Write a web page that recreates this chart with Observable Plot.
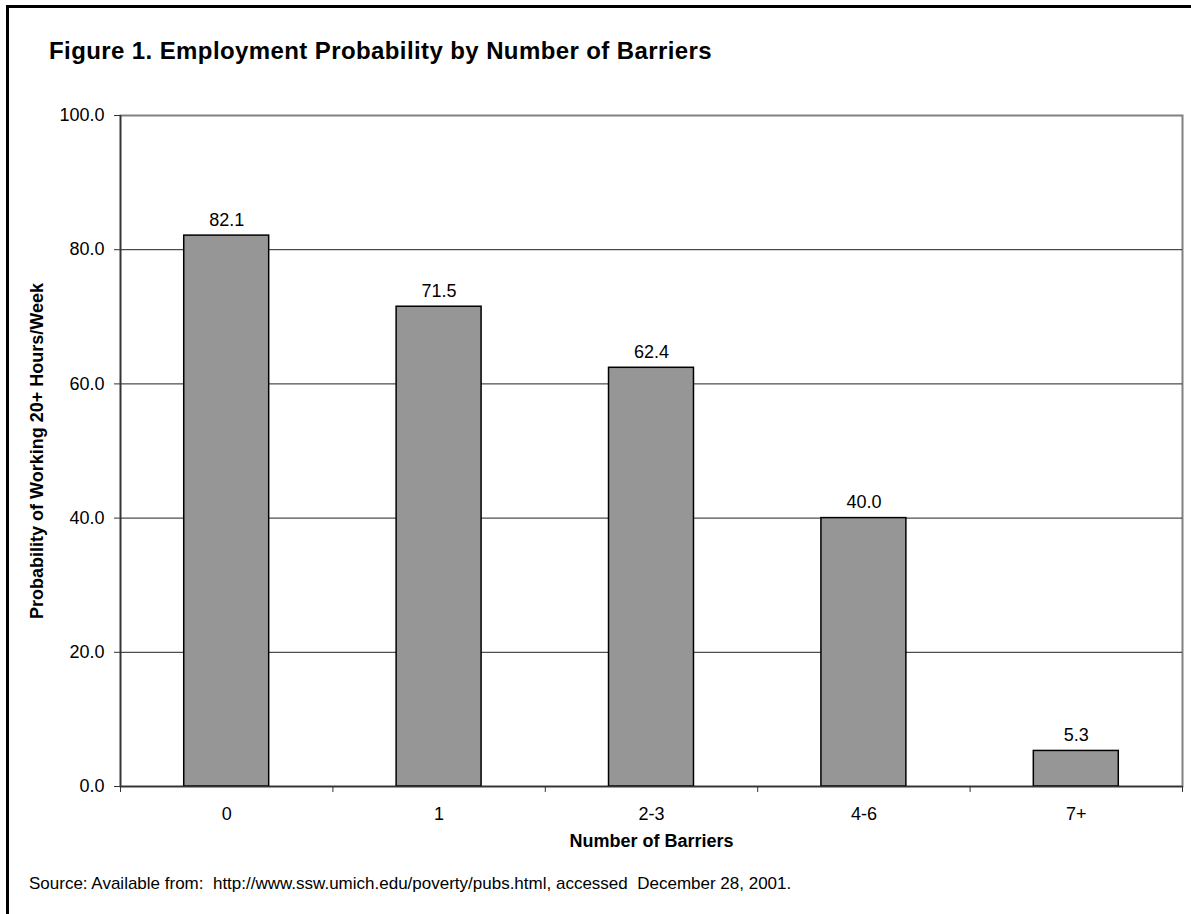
<!DOCTYPE html>
<html>
<head>
<meta charset="utf-8">
<script src="https://cdn.jsdelivr.net/npm/d3@7"></script>
<script src="https://cdn.jsdelivr.net/npm/@observablehq/plot@0.6"></script>
<style>
  html, body { margin: 0; padding: 0; background: #fff; }
  #page {
    position: relative;
    width: 1191px;
    height: 914px;
    overflow: hidden;
    background: #fff;
    font-family: "Liberation Sans", Arial, Helvetica, sans-serif;
    color: #000;
  }
  #border {
    position: absolute;
    left: 6px; top: 5px; right: -10px; bottom: -10px;
    border-left: 3px solid #000;
    border-top: 3px solid #000;
  }
  #title {
    position: absolute;
    left: 49px; top: 39px;
    font-size: 24px; line-height: 1;
    letter-spacing: 0.4px;
    font-weight: bold;
    white-space: nowrap;
  }
  #chart { position: absolute; left: 0; top: 80px; }
  #source {
    position: absolute;
    left: 29px; top: 875px;
    font-size: 17px; line-height: 1;
    white-space: nowrap;
  }
</style>
</head>
<body>
<div id="page">
  <div id="border"></div>
  <div id="title">Figure 1. Employment Probability by Number of Barriers</div>
  <div id="chart"></div>
  <div id="source">Source: Available from:&nbsp; http://www.ssw.umich.edu/poverty/pubs.html, accessed&nbsp; December 28, 2001.</div>
</div>
<script>
// Employment probability (%) by number of barriers
const categories = ["0", "1", "2-3", "4-6", "7+"];
const values = [82.1, 71.5, 62.4, 40.0, 5.3];
const yTicks = [0, 20, 40, 60, 80, 100];
const xTitle = "Number of Barriers";
const yTitle = "Probability of Working 20+ Hours/Week";

const data = categories.map((category, index) => ({category, index, value: values[index]}));
const fmt = d3.format(".1f");

// Categories sit on a continuous index scale so ticks can mark the
// boundaries between bars while labels sit at the bar centres.
const chart = Plot.plot({
  width: 1191,
  height: 785,
  marginTop: 35,
  marginLeft: 120,
  marginRight: 9,
  marginBottom: 79,
  style: {
    fontFamily: '"Liberation Sans", Arial, Helvetica, sans-serif',
    fontSize: "18px",
    color: "#000",
    background: "transparent",
    overflow: "visible"
  },
  x: {domain: [0, categories.length]},
  y: {domain: [0, 100]},
  marks: [
    Plot.frame({stroke: "#808080", strokeWidth: 2}),
    Plot.gridY(yTicks.filter(t => t > 0 && t < 100), {stroke: "#222", strokeOpacity: 1, strokeWidth: 1}),
    Plot.rectY(data, {
      x1: d => d.index + 0.3,
      x2: d => d.index + 0.7,
      y: "value",
      fill: "#969696",
      stroke: "#000",
      strokeWidth: 1.5
    }),
    Plot.ruleX([0], {stroke: "#333", strokeWidth: 1.5}),
    Plot.ruleY([0], {stroke: "#333", strokeWidth: 1.5}),
    Plot.axisY(yTicks, {tickFormat: fmt, tickSize: 6, tickPadding: 10, stroke: "#333", label: null}),
    Plot.axisX(d3.range(categories.length + 1), {tickFormat: () => "", tickSize: 6, stroke: "#333", label: null}),
    Plot.axisX(data.map(d => d.index + 0.5), {
      tickFormat: v => categories[Math.floor(v)],
      tickSize: 0,
      tickPadding: 21,
      label: null
    }),
    Plot.text(data, {
      x: d => d.index + 0.5,
      y: "value",
      text: d => fmt(d.value),
      lineAnchor: "bottom",
      dy: -10
    }),
    Plot.text([xTitle], {frameAnchor: "bottom", dy: 60, fontWeight: "bold"}),
    Plot.text([yTitle], {frameAnchor: "left", textAnchor: "middle", rotate: -90, dx: -83, fontWeight: "bold"})
  ]
});

document.getElementById("chart").append(chart);
</script>
</body>
</html>
